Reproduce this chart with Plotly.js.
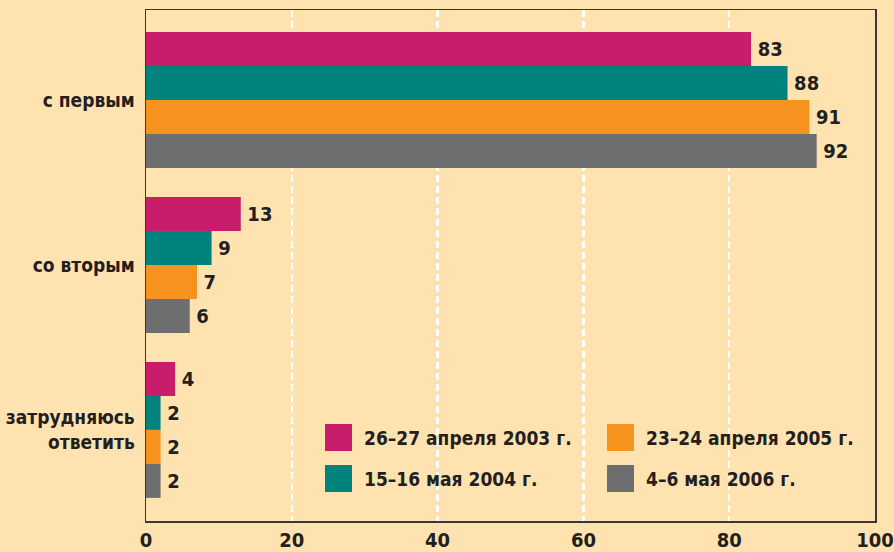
<!DOCTYPE html>
<html>
<head>
<meta charset="utf-8">
<script src="https://cdn.plot.ly/plotly-3.0.1.min.js"></script>
<style>html,body{margin:0;padding:0;background:#FEE3B0;}</style>
</head>
<body>
<div id="chart" style="width:894px;height:552px;"></div>
<script>
const categories = ['с первым', 'со вторым', 'затрудняюсь<br>ответить'];
const seriesNames = ['26–27 апреля 2003 г.', '15–16 мая 2004 г.', '23–24 апреля 2005 г.', '4–6 мая 2006 г.'];
const seriesColors = ['#C81D6B', '#00837D', '#F6921E', '#6D6E70'];
const v2003 = [83, 13, 4];
const v2004 = [88, 9, 2];
const v2005 = [91, 7, 2];
const v2006 = [92, 6, 2];
const seriesValues = [v2003, v2004, v2005, v2006];
const xTicks = [0, 20, 40, 60, 80, 100];

const FONT = '"Liberation Sans Narrow", "DejaVu Sans Condensed", "Arial Narrow", sans-serif';
const TXT = '#231F20';
const BG = '#FEE3B0';
const FS = 19;

const traces = seriesValues.map((vals, i) => ({
  type: 'bar',
  orientation: 'h',
  name: seriesNames[i],
  y: categories,
  x: vals,
  marker: {color: seriesColors[i], line: {width: 0}},
  texttemplate: '\u2009%{x}',
  textposition: 'outside',
  cliponaxis: false,
  textfont: {family: FONT, size: 20, color: TXT, weight: 'bold'},
  showlegend: false,
  hoverinfo: 'skip'
}));

// custom legend (pixel positions converted to paper fractions)
const L = 146, R = 875, T = 10, B = 521;
const px = x => (x - L) / (R - L);
const py = y => (B - y) / (B - T);
const legPos = [[325, 424], [325, 465], [607, 424], [607, 465]];
const shapes = legPos.map((p, i) => ({
  type: 'rect', xref: 'paper', yref: 'paper',
  x0: px(p[0]), x1: px(p[0] + 27), y0: py(p[1] + 27), y1: py(p[1]),
  fillcolor: seriesColors[i], line: {width: 0}
}));
const annotations = legPos.map((p, i) => ({
  xref: 'paper', yref: 'paper', x: px(p[0] + 37), y: py(p[1] + 14),
  xanchor: 'left', yanchor: 'middle', showarrow: false,
  text: seriesNames[i],
  font: {family: FONT, size: FS, color: TXT, weight: 'bold'}
}));

const layout = {
  width: 894, height: 552,
  paper_bgcolor: BG, plot_bgcolor: BG,
  margin: {l: L, r: 894 - R, t: T, b: 552 - B, pad: 0},
  barmode: 'group', bargap: 0.176, bargroupgap: 0,
  showlegend: false,
  font: {family: FONT, size: FS, color: TXT, weight: 'bold'},
  xaxis: {
    range: [0, 100], tickvals: xTicks, ticktext: xTicks.map(String),
    showgrid: true, gridcolor: '#FFFFFF', gridwidth: 2.5, griddash: '7px,4px',
    zeroline: false, showline: true, linecolor: '#3A3635', linewidth: 1.5, mirror: true,
    ticks: '', ticklabelstandoff: 0, ticklabeloverflow: 'allow',
    tickfont: {family: FONT, size: 20, color: TXT, weight: 'bold'},
    fixedrange: true
  },
  yaxis: {
    type: 'category', categoryorder: 'array', categoryarray: categories,
    range: [2.552, -0.545],
    showgrid: false, zeroline: false, showline: true, linecolor: '#3A3635', linewidth: 1.5, mirror: true,
    ticks: '', ticklabelstandoff: 6,
    tickfont: {family: FONT, size: FS, color: TXT, weight: 'bold'},
    fixedrange: true
  },
  shapes: shapes,
  annotations: annotations
};

Plotly.newPlot('chart', traces, layout, {displayModeBar: false, staticPlot: true});
</script>
</body>
</html>
